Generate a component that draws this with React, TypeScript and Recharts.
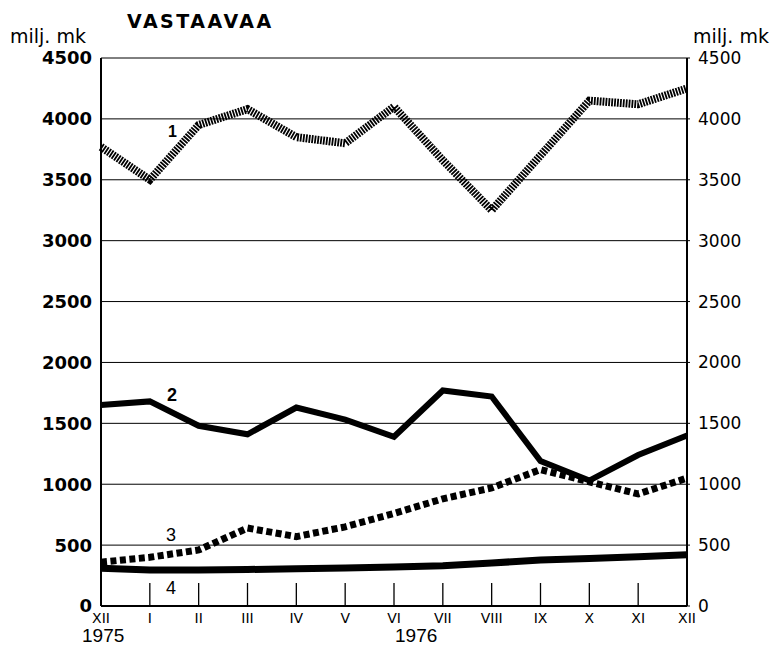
import React from "react";
import {
  LineChart,
  Line,
  XAxis,
  YAxis,
  CartesianGrid,
} from "recharts";

const months = ["XII", "I", "II", "III", "IV", "V", "VI", "VII", "VIII", "IX", "X", "XI", "XII"];
const series1 = [3770, 3500, 3950, 4080, 3850, 3800, 4100, 3660, 3250, 3700, 4150, 4120, 4250];
const series2 = [1650, 1680, 1480, 1410, 1630, 1530, 1390, 1770, 1720, 1190, 1030, 1240, 1400];
const series3 = [360, 400, 460, 640, 570, 650, 760, 880, 970, 1120, 1020, 920, 1050];
const series4 = [310, 295, 295, 300, 305, 313, 320, 331, 353, 378, 390, 405, 420];
const yTicks = [0, 500, 1000, 1500, 2000, 2500, 3000, 3500, 4000, 4500];

const data = months.map((m, i) => ({
  i,
  m,
  s1: series1[i],
  s2: series2[i],
  s3: series3[i],
  s4: series4[i],
}));

const sans = "'Liberation Sans', Arial, sans-serif";
const wide = "'DejaVu Sans', sans-serif";

const MonthTick = (props: any) => {
  const { x, y, payload } = props;
  const idx = payload.value as number;
  const inner = idx > 0 && idx < months.length - 1;
  return (
    <g>
      {inner && <line x1={x} x2={x} y1={y} y2={y - 23} stroke="#000" strokeWidth={1.3} />}
      <text
        x={x}
        y={y + 17}
        textAnchor="middle"
        fontFamily={wide}
        fontSize={14}
        fill="#000"
      >
        {months[idx]}
      </text>
    </g>
  );
};

const abs = (left: number, top: number, extra: React.CSSProperties = {}): React.CSSProperties => ({
  position: "absolute",
  left,
  top,
  fontFamily: sans,
  color: "#000",
  lineHeight: 1,
  whiteSpace: "nowrap",
  ...extra,
});

export default function App() {
  return (
    <div style={{ position: "absolute", left: 0, top: 0, width: 776, height: 646, background: "#fff" }}>
      <LineChart
        width={776}
        height={646}
        data={data}
        margin={{ top: 58, right: 0, bottom: 0, left: 0 }}
      >
        <CartesianGrid vertical={false} stroke="#000" strokeWidth={1} yAxisId="left" />
        <XAxis
          dataKey="i"
          type="category"
          scale="point"
          padding={{ left: 0, right: 0 }}
          height={40}
          axisLine={{ stroke: "#000", strokeWidth: 2 }}
          tickLine={false}
          tickSize={0}
          tickMargin={0}
          tick={<MonthTick />}
          interval={0}
        />
        <YAxis
          yAxisId="left"
          orientation="left"
          width={101}
          domain={[0, 4500]}
          ticks={yTicks}
          interval={0}
          axisLine={{ stroke: "#000", strokeWidth: 2 }}
          tickLine={false}
          tickSize={0}
          tickMargin={9}
          tick={{ fontFamily: wide, fontSize: 18, fontWeight: "bold", fill: "#000" }}
        />
        <YAxis
          yAxisId="right"
          orientation="right"
          width={89}
          domain={[0, 4500]}
          ticks={yTicks}
          interval={0}
          axisLine={{ stroke: "#000", strokeWidth: 2 }}
          tickLine={{ stroke: "#000", strokeWidth: 1 }}
          tickSize={3}
          tickMargin={8}
          tick={{ fontFamily: wide, fontSize: 17, fill: "#000" }}
        />
        <Line
          yAxisId="right"
          dataKey="s1"
          stroke="none"
          dot={false}
          activeDot={false}
          legendType="none"
          isAnimationActive={false}
        />
        <Line
          yAxisId="left"
          dataKey="s1"
          stroke="#000"
          strokeWidth={8}
          strokeDasharray="1.8 1.1"
          dot={false}
          isAnimationActive={false}
        />
        <Line
          yAxisId="left"
          dataKey="s2"
          stroke="#000"
          strokeWidth={6}
          dot={false}
          isAnimationActive={false}
        />
        <Line
          yAxisId="left"
          dataKey="s3"
          stroke="#000"
          strokeWidth={7}
          strokeDasharray="6 3.5"
          dot={false}
          isAnimationActive={false}
        />
        <Line
          yAxisId="left"
          dataKey="s4"
          stroke="#000"
          strokeWidth={7}
          dot={false}
          isAnimationActive={false}
        />
      </LineChart>

      <div style={abs(127, 12, { fontFamily: wide, fontSize: 19, fontWeight: "bold", letterSpacing: 2.5 })}>VASTAAVAA</div>
      <div style={abs(10, 27, { fontFamily: wide, fontSize: 19 })}>milj. mk</div>
      <div style={abs(693, 27, { fontFamily: wide, fontSize: 19 })}>milj. mk</div>
      <div style={abs(82, 626, { fontSize: 19 })}>1975</div>
      <div style={abs(395, 626, { fontSize: 19 })}>1976</div>

      <div style={abs(168, 124, { fontSize: 16, fontWeight: "bold" })}>1</div>
      <div style={abs(167, 386, { fontSize: 18, fontWeight: "bold" })}>2</div>
      <div style={abs(166, 526, { fontSize: 18 })}>3</div>
      <div style={abs(166, 579, { fontSize: 18 })}>4</div>
    </div>
  );
}
